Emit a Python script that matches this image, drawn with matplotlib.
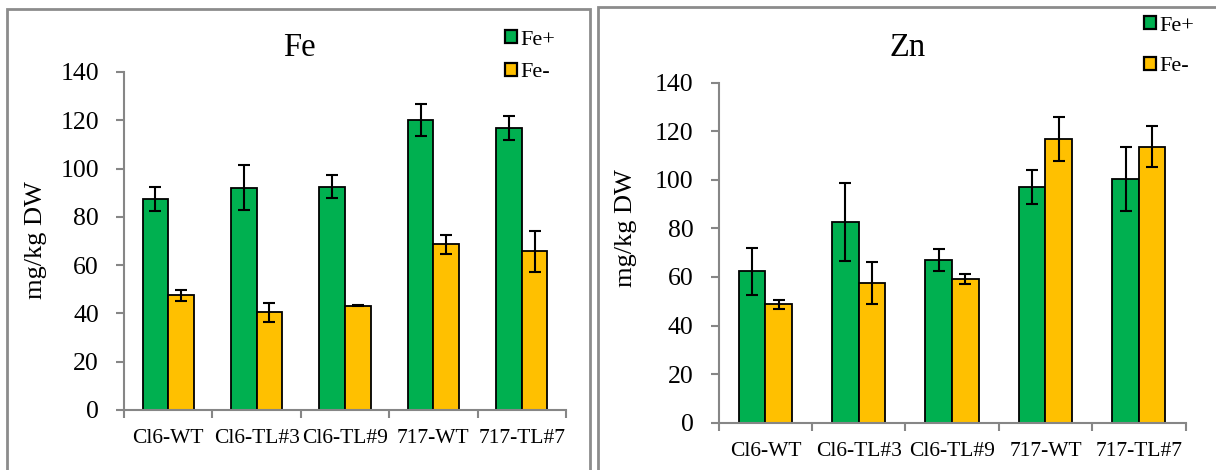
import numpy as np
import matplotlib
matplotlib.use('Agg')
from matplotlib import pyplot as plt
from matplotlib.patches import Rectangle, Patch

plt.rcParams['font.family'] = ['Liberation Serif', 'DejaVu Serif']

lines = ['Cl6-WT', 'Cl6-TL#3', 'Cl6-TL#9', '717-WT', '717-TL#7']
series = ['Fe+', 'Fe-']

# Fe content (mg/kg DW) with standard errors
fe_plus = [87.3, 92.1, 92.5, 120.1, 116.8]
fe_plus_err = [5.0, 9.2, 4.7, 6.5, 5.0]
fe_minus = [47.5, 40.5, 43.2, 68.6, 65.7]
fe_minus_err = [2.3, 4.0, 0.3, 4.0, 8.6]

# Zn content (mg/kg DW) with standard errors
zn_plus = [62.3, 82.7, 67.1, 96.9, 100.3]
zn_plus_err = [9.8, 16.0, 4.5, 7.0, 13.2]
zn_minus = [48.7, 57.4, 59.1, 116.7, 113.6]
zn_minus_err = [1.8, 8.7, 2.0, 9.1, 8.4]

GREEN = '#00B050'
YELLOW = '#FFC000'
SPINE = '#868686'

W, H = 1216, 470
fig = plt.figure(figsize=(W / 100, H / 100), dpi=100)


def px(x0, y0, x1, y1):
    # pixel box (top-left origin) -> figure fraction rect
    return [x0 / W, 1 - y1 / H, (x1 - x0) / W, (y1 - y0) / H]


def panel(rect, plus, plus_err, minus, minus_err, width, xlab_pad):
    ax = fig.add_axes(rect)
    x = np.arange(len(lines))
    ax.bar(x - width / 2, plus, width, color=GREEN, edgecolor='black', linewidth=1.3,
           yerr=plus_err, error_kw=dict(ecolor='black', elinewidth=1.5, capsize=4.5, capthick=1.5))
    ax.bar(x + width / 2, minus, width, color=YELLOW, edgecolor='black', linewidth=1.3,
           yerr=minus_err, error_kw=dict(ecolor='black', elinewidth=1.5, capsize=4.5, capthick=1.5))
    ax.set_xlim(-0.5, len(lines) - 0.5)
    ax.set_ylim(0, 140)
    ax.set_yticks(range(0, 141, 20))
    ax.set_xticks(x)
    ax.set_xticklabels(lines, fontsize=15.5)
    ax.set_xticks(np.arange(-0.5, len(lines), 1.0), minor=True)
    ax.tick_params(axis='x', which='major', length=0, pad=xlab_pad)
    ax.tick_params(axis='x', which='minor', length=6, width=1.5, color=SPINE, direction='out')
    ax.tick_params(axis='y', length=6, width=1.5, color=SPINE, pad=12, labelsize=18.5)
    for s in ['top', 'right']:
        ax.spines[s].set_visible(False)
    for s in ['left', 'bottom']:
        ax.spines[s].set_color(SPINE)
        ax.spines[s].set_linewidth(1.5)
    return ax


ax1 = panel(px(124, 72, 566, 410), fe_plus, fe_plus_err, fe_minus, fe_minus_err, 0.29, 14)
ax2 = panel(px(718.7, 82.7, 1185.5, 422.7), zn_plus, zn_plus_err, zn_minus, zn_minus_err, 0.285, 14)

# panel frames
fig.patches.append(Rectangle((7 / W, -0.1), (589.5 - 7) / W, 1.1 - 9 / H, transform=fig.transFigure,
                             fill=False, edgecolor='#8c8c8c', linewidth=2))
fig.patches.append(Rectangle((597.7 / W, -0.1), 0.6, 1.1 - 6.7 / H, transform=fig.transFigure,
                             fill=False, edgecolor='#8c8c8c', linewidth=2))

# titles
fig.text(299 / W, 1 - 48 / H, 'Fe', fontsize=23.5, ha='center', va='center')
fig.text(908 / W, 1 - 48 / H, 'Zn', fontsize=23.5, ha='center', va='center')

# y labels
fig.text(36 / W, 1 - 240 / H, 'mg/kg DW', fontsize=19, rotation=90, ha='center', va='center')
fig.text(626 / W, 1 - 228 / H, 'mg/kg DW', fontsize=19, rotation=90, ha='center', va='center')

handles = [Patch(facecolor=GREEN, edgecolor='black', linewidth=1.6),
           Patch(facecolor=YELLOW, edgecolor='black', linewidth=1.6)]
for (lx, ly, spacing) in [(505, 30, 0.6), (1144, 16, 0.95)]:
    fig.legend(handles, series, loc='upper left', bbox_to_anchor=(lx / W, 1 - ly / H),
               frameon=False, fontsize=16, handlelength=0.55, handleheight=0.55,
               handletextpad=0.15, labelspacing=spacing, borderpad=0, borderaxespad=0)

fig.savefig('out.png', dpi=100)
plt.close(fig)
